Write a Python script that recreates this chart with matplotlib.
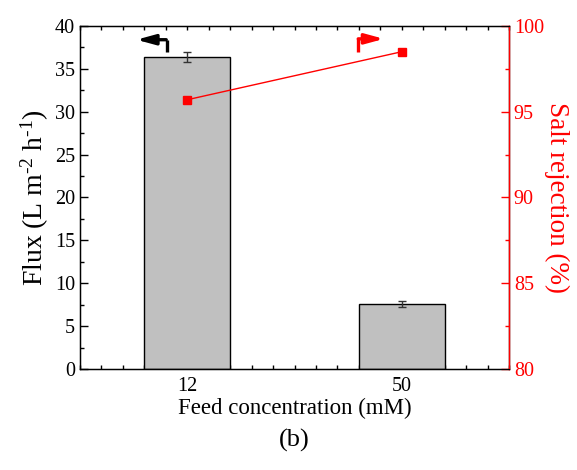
import matplotlib
matplotlib.use("Agg")
import matplotlib.pyplot as plt
from matplotlib.ticker import MultipleLocator
import numpy as np

plt.rcParams['font.family'] = ['Liberation Serif', 'DejaVu Serif']
plt.rcParams['mathtext.fontset'] = 'custom'
plt.rcParams['mathtext.rm'] = 'Liberation Serif'
plt.rcParams['mathtext.it'] = 'Liberation Serif:italic'
plt.rcParams['mathtext.bf'] = 'Liberation Serif:bold'

categories = ['12', '50']
flux = [36.4, 7.6]
flux_err = [0.55, 0.35]
rejection = [95.7, 98.5]

fig = plt.figure(figsize=(5.77, 4.70), dpi=100)
ax = fig.add_axes([80/577, 1-369/470, 429/577, 343/470])
pos = np.arange(1, len(categories) + 1)
ax.bar(pos, flux, width=0.4, color='#c0c0c0', edgecolor='black', linewidth=1.0, zorder=2)
ax.errorbar(pos, flux, yerr=flux_err, fmt='none', ecolor='#333333', elinewidth=1.0,
            capsize=3, capthick=1.0, zorder=3)
ax.set_xlim(0.5, 2.5)
ax.set_ylim(0, 40)
ax.set_xticks(pos)
ax.set_xticklabels(categories)
ax.xaxis.set_minor_locator(MultipleLocator(0.1))
ax.yaxis.set_major_locator(MultipleLocator(5))
ax.yaxis.set_minor_locator(MultipleLocator(2.5))
ax.tick_params(axis='both', which='major', direction='in', length=6, width=1, labelsize=14.5)
ax.tick_params(axis='x', which='both', top=True)
ax.tick_params(axis='x', which='minor', direction='in', length=3, width=1)
ax.tick_params(axis='y', which='minor', direction='in', length=3, width=1)
ax.tick_params(axis='x', which='major', length=3, pad=6)
for s in ax.spines.values():
    s.set_linewidth(1.0)
ax.set_xlabel('Feed concentration (mM)', fontsize=16.5, labelpad=1)
ax.set_ylabel(r'$\mathrm{Flux\ (L\ m^{\text{-2}}\ h^{\text{-1}})}$', fontsize=20, labelpad=3)

ax2 = ax.twinx()
ax2.plot(pos, rejection, color='red', marker='s', markersize=6, linewidth=1.0, zorder=4)
ax2.set_ylim(80, 100)
ax2.yaxis.set_major_locator(MultipleLocator(5))
ax2.yaxis.set_minor_locator(MultipleLocator(2.5))
ax2.tick_params(axis='y', which='major', direction='in', length=6, width=1, labelsize=14.5,
                colors='red')
ax2.tick_params(axis='y', which='minor', direction='in', length=3, width=1, colors='red')
ax2.spines['right'].set_color('red')
ax2.spines['right'].set_linewidth(1.0)
ax2.set_ylabel('Salt rejection (%)', fontsize=19.5, color='red', rotation=270, labelpad=18)

# direction arrows
ax.plot([0.904, 0.904], [37.0, 38.4], color='black', lw=2.4, solid_capstyle='butt', zorder=5)
ax.annotate('', xy=(0.75, 38.4), xytext=(0.915, 38.4),
            arrowprops=dict(arrowstyle='-|>,head_length=1.1,head_width=0.3', color='black', lw=2.4))
ax.plot([1.795, 1.795], [37.0, 38.5], color='red', lw=2.4, solid_capstyle='butt', zorder=5)
ax.annotate('', xy=(1.93, 38.5), xytext=(1.784, 38.5),
            arrowprops=dict(arrowstyle='-|>,head_length=1.1,head_width=0.3', color='red', lw=2.4))

fig.text(0.5 * (80 + 509) / 577, 1 - 440/470, '(b)', fontsize=19, ha='center', va='center')

fig.savefig('out.png', dpi=100)
